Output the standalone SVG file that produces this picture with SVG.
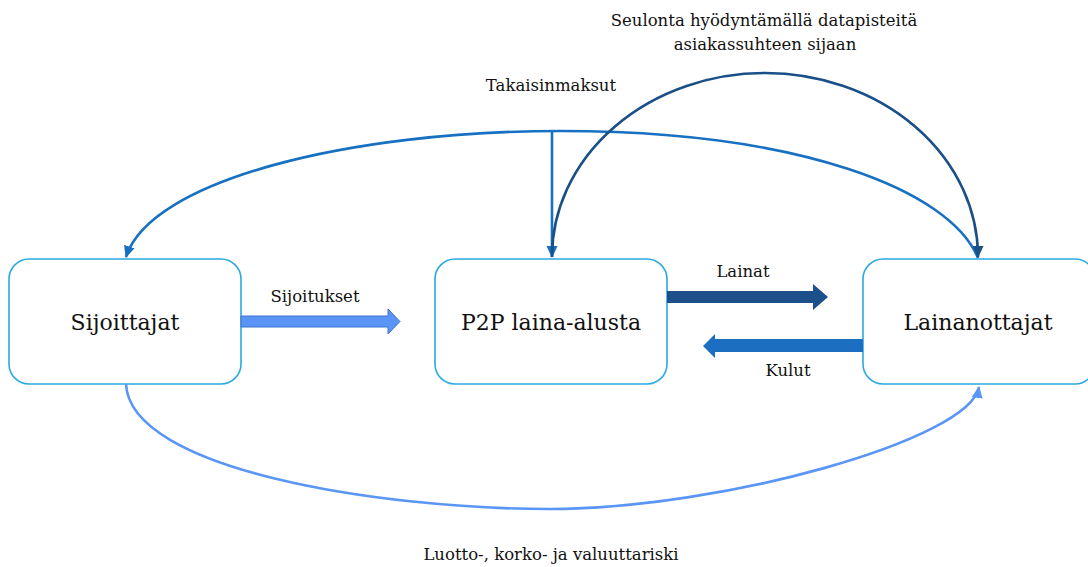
<svg xmlns="http://www.w3.org/2000/svg" width="1088" height="567" viewBox="0 0 1088 567">
<style>
.box{fill:#ffffff;stroke:#2aa9e2;stroke-width:1.6}
.big{font-family:'DejaVu Serif','Liberation Serif',serif;font-size:22px;fill:#111;text-anchor:middle}
.lbl{font-family:'DejaVu Serif','Liberation Serif',serif;font-size:16.5px;fill:#111;text-anchor:middle}
.c1{fill:none;stroke:#1770c1;stroke-width:2.6}
.c2{fill:none;stroke:#1a4f87;stroke-width:2.6}
.c3{fill:none;stroke:#5a96f6;stroke-width:2.6}
</style>
<defs>
<marker id="m1" markerUnits="userSpaceOnUse" markerWidth="14" markerHeight="12" refX="11" refY="6" orient="auto" viewBox="0 0 14 12">
<path d="M0,0.5 L12,6 L0,11.5 Z" fill="#1770c1"/>
</marker>
<marker id="m2" markerUnits="userSpaceOnUse" markerWidth="14" markerHeight="12" refX="11" refY="6" orient="auto" viewBox="0 0 14 12">
<path d="M0,0.5 L12,6 L0,11.5 Z" fill="#1a4f87"/>
</marker>
<marker id="m3" markerUnits="userSpaceOnUse" markerWidth="14" markerHeight="12" refX="11" refY="6" orient="auto" viewBox="0 0 14 12">
<path d="M0,0.5 L12,6 L0,11.5 Z" fill="#5a96f6"/>
</marker>
</defs>
<g id="node-sijoittajat">
<rect class="box" x="9" y="259" width="232" height="125" rx="20"/>
<text class="big" x="125" y="330">Sijoittajat</text>
</g>
<g id="node-p2p">
<rect class="box" x="435" y="259" width="232" height="125" rx="20"/>
<text class="big" x="551" y="330">P2P laina-alusta</text>
</g>
<g id="node-lainanottajat">
<rect class="box" x="863" y="259" width="232" height="125" rx="20"/>
<text class="big" x="978" y="330">Lainanottajat</text>
</g>
<g id="connectors">
<path class="c1" d="M978,258 C950,190 800,131 560,131 C350,131 150,180 126,257" marker-end="url(#m1)"/>
<path class="c1" d="M552,131 L552,257" marker-end="url(#m1)"/>
<path class="c2" d="M552,257 A213,184 0 0 1 978,257" marker-end="url(#m2)"/>
<path class="c3" d="M126,384 C130,470 380,509 550,509 C720,509 970,440 979,387" marker-end="url(#m3)"/>
<path d="M241,316 L388,316 L388,309 L400,321.5 L388,334 L388,327 L241,327 Z" fill="#5b94f7" stroke="#3f74cf" stroke-width="1"/>
<path d="M667,291 L813,291 L813,284 L828,297 L813,310 L813,303 L667,303 Z" fill="#1d4f8a"/>
<path d="M863,339 L715,339 L715,334 L703,346 L715,358 L715,352 L863,352 Z" fill="#1b6ec0"/>
</g>
<g id="labels">
<text class="lbl" x="315" y="302">Sijoitukset</text>
<text class="lbl" x="743" y="277">Lainat</text>
<text class="lbl" x="788" y="376">Kulut</text>
<text class="lbl" x="551" y="91">Takaisinmaksut</text>
<text class="lbl" x="764" y="26">Seulonta hyödyntämällä datapisteitä</text>
<text class="lbl" x="765" y="50">asiakassuhteen sijaan</text>
<text class="lbl" x="551" y="560">Luotto-, korko- ja valuuttariski</text>
</g>
</svg>
